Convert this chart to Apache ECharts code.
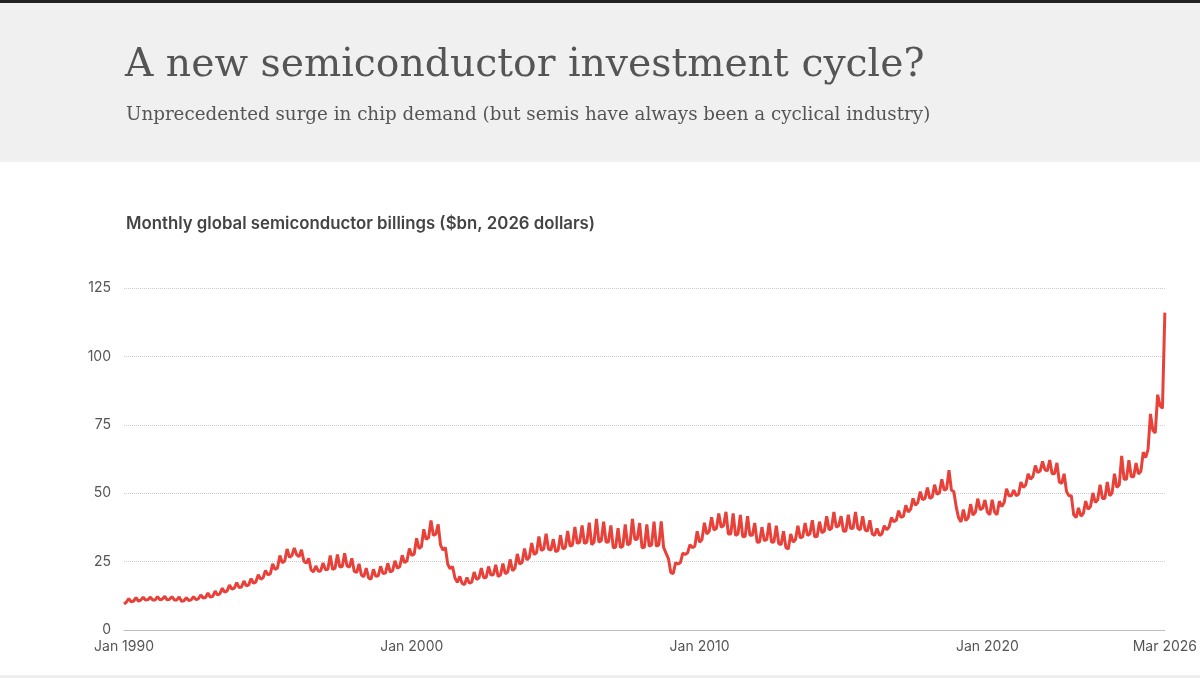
<!DOCTYPE html>
<html>
<head>
<meta charset="utf-8">
<title>A new semiconductor investment cycle?</title>
<script src="https://cdn.jsdelivr.net/npm/echarts@6.0.0/dist/echarts.min.js"></script>
<style>
  html, body { margin: 0; padding: 0; background: #fff; }
  #chart { width: 1200px; height: 678px; }
</style>
</head>
<body>
<div id="chart"></div>
<script>
// month names + first year -> category labels
var months = ['Jan', 'Feb', 'Mar', 'Apr', 'May', 'Jun', 'Jul', 'Aug', 'Sep', 'Oct', 'Nov', 'Dec'];
var firstYear = 1990;
// only these dates get a label on the x axis
var shownLabels = ['Jan 1990', 'Jan 2000', 'Jan 2010', 'Jan 2020', 'Mar 2026'];

// monthly billings, $bn (2026 dollars), one array per year
var y1990 = [9.5, 10.2, 11.5, 10.3, 10.6, 11.8, 10.6, 10.9, 12.0, 11.0, 11.1, 12.0];
var y1991 = [11.0, 11.0, 12.2, 11.0, 11.3, 12.3, 11.0, 11.2, 12.2, 11.0, 11.0, 12.1];
var y1992 = [10.5, 10.7, 11.8, 10.8, 11.0, 12.2, 11.1, 11.4, 12.8, 11.7, 11.9, 13.5];
var y1993 = [12.0, 12.3, 14.2, 12.8, 13.3, 15.3, 13.8, 14.3, 16.4, 14.9, 15.3, 17.3];
var y1994 = [15.5, 15.7, 17.9, 16.1, 16.5, 18.8, 17.1, 17.6, 20.2, 18.6, 19.1, 21.8];
var y1995 = [20.2, 20.5, 24.2, 22.1, 22.7, 27.2, 24.6, 25.2, 29.6, 26.6, 27.2, 30.0];
var y1996 = [27.5, 26.8, 29.3, 25.2, 24.4, 26.2, 22.0, 21.2, 23.4, 21.5, 21.6, 24.5];
var y1997 = [22.0, 22.2, 27.2, 22.1, 22.6, 27.6, 23.0, 23.2, 28.0, 23.4, 23.0, 26.2];
var y1998 = [21.5, 21.0, 24.2, 20.1, 19.5, 22.6, 19.0, 18.6, 22.2, 19.6, 19.8, 23.3];
var y1999 = [20.6, 20.8, 24.4, 21.2, 21.7, 25.3, 22.6, 23.2, 27.3, 24.6, 25.3, 29.8];
var y2000 = [27.2, 27.8, 33.5, 29.8, 30.4, 36.8, 33.1, 33.8, 40.0, 34.6, 35.0, 38.6];
var y2001 = [31.0, 29.2, 30.2, 24.0, 22.4, 23.2, 19.0, 17.4, 19.6, 17.0, 16.6, 19.2];
var y2002 = [17.1, 17.5, 21.2, 18.5, 19.0, 22.6, 19.1, 19.2, 23.2, 20.1, 20.2, 23.8];
var y2003 = [19.6, 20.1, 24.3, 20.6, 21.2, 25.8, 21.7, 22.6, 27.8, 24.1, 24.7, 29.8];
var y2004 = [25.6, 26.6, 31.8, 27.6, 28.2, 34.2, 29.1, 29.6, 35.2, 29.6, 29.2, 33.2];
var y2005 = [28.6, 29.1, 34.6, 29.6, 30.1, 36.2, 30.6, 31.1, 37.7, 31.6, 32.1, 38.2];
var y2006 = [31.6, 32.1, 39.2, 31.2, 32.1, 40.6, 32.1, 32.6, 39.6, 32.1, 32.2, 38.2];
var y2007 = [30.1, 30.2, 37.2, 30.1, 30.6, 38.6, 31.1, 31.6, 40.6, 33.1, 33.2, 39.1];
var y2008 = [30.1, 30.2, 38.6, 30.6, 31.1, 39.6, 30.6, 31.1, 39.7, 30.2, 28.1, 26.1];
var y2009 = [21.0, 20.6, 24.6, 24.1, 24.6, 28.1, 27.6, 28.2, 31.2, 30.1, 30.6, 36.1];
var y2010 = [32.1, 33.1, 39.2, 35.1, 36.1, 41.2, 36.6, 37.1, 42.6, 37.6, 38.1, 43.2];
var y2011 = [35.1, 35.1, 42.6, 34.6, 35.1, 42.1, 34.1, 34.2, 41.6, 34.6, 34.6, 39.1];
var y2012 = [32.1, 32.2, 37.6, 32.6, 33.1, 39.1, 32.1, 32.2, 38.1, 31.6, 31.2, 36.1];
var y2013 = [30.1, 29.6, 35.1, 32.1, 33.1, 38.1, 33.6, 34.1, 39.1, 34.6, 35.1, 40.1];
var y2014 = [34.1, 34.2, 39.6, 35.6, 36.1, 41.6, 36.6, 37.1, 43.1, 37.6, 38.1, 41.6];
var y2015 = [36.1, 36.2, 42.1, 37.1, 37.2, 43.1, 37.1, 36.6, 41.6, 36.6, 36.1, 40.1];
var y2016 = [35.1, 34.6, 37.1, 34.6, 35.1, 38.1, 36.6, 37.6, 41.1, 39.6, 40.1, 43.6];
var y2017 = [41.1, 41.6, 45.6, 43.1, 44.1, 48.1, 45.6, 46.6, 50.6, 47.6, 48.1, 52.1];
var y2018 = [48.1, 48.6, 53.1, 49.6, 50.1, 55.1, 51.1, 51.6, 58.4, 51.1, 50.6, 45.0];
var y2019 = [41.0, 39.5, 44.0, 40.0, 41.0, 46.0, 42.0, 43.0, 48.0, 44.0, 44.5, 47.5];
var y2020 = [43.1, 42.1, 47.6, 43.1, 42.1, 47.1, 45.1, 46.6, 51.6, 49.1, 49.1, 51.1];
var y2021 = [49.1, 49.6, 54.1, 52.1, 53.1, 57.1, 55.1, 56.1, 60.1, 57.6, 58.1, 61.6];
var y2022 = [58.6, 58.1, 62.1, 57.1, 57.1, 61.1, 54.1, 53.6, 57.1, 50.6, 49.1, 49.1];
var y2023 = [42.1, 41.1, 44.6, 41.6, 42.6, 47.1, 44.1, 45.1, 50.1, 46.6, 47.6, 53.1];
var y2024 = [48.1, 48.1, 54.1, 49.1, 50.1, 57.1, 52.1, 53.1, 63.6, 55.1, 55.1, 62.1];
var y2025 = [56.0, 56.0, 61.0, 57.0, 58.0, 65.0, 63.0, 66.0, 79.0, 73.0, 72.0, 86.0];
var y2026 = [82.0, 81.0, 116.0];

var billings = [].concat(
    y1990, y1991, y1992, y1993, y1994, y1995, y1996, y1997, y1998, y1999,
    y2000, y2001, y2002, y2003, y2004, y2005, y2006, y2007, y2008, y2009,
    y2010, y2011, y2012, y2013, y2014, y2015, y2016, y2017, y2018, y2019,
    y2020, y2021, y2022, y2023, y2024, y2025, y2026
);

var categories = [];
for (var i = 0; i < billings.length; i++) {
    categories.push(months[i % 12] + ' ' + (firstYear + Math.floor(i / 12)));
}

var red = '#e8413a';
var myChart = echarts.init(document.getElementById('chart'));
var option = {
    animation: false,
    backgroundColor: '#fff',
    // header band + titles
    graphic: [
        { type: 'rect', shape: { x: 0, y: 0, width: 1200, height: 3 }, style: { fill: '#222' } },
        { type: 'rect', shape: { x: 0, y: 3, width: 1200, height: 159 }, style: { fill: '#f0f0f0' } },
        { type: 'rect', shape: { x: 0, y: 675, width: 1200, height: 3 }, style: { fill: '#eeeeee' } },
        {
            type: 'text', x: 125, y: 66,
            style: {
                text: 'A new semiconductor investment cycle?',
                fontFamily: 'DejaVu Serif', fontSize: 39.3, fill: '#555',
                verticalAlign: 'middle'
            }
        },
        {
            type: 'text', x: 126, y: 115,
            style: {
                text: 'Unprecedented surge in chip demand (but semis have always been a cyclical industry)',
                fontFamily: 'DejaVu Serif', fontSize: 18.3, fill: '#555',
                verticalAlign: 'middle'
            }
        },
        {
            type: 'text', x: 126, y: 224,
            style: {
                text: 'Monthly global semiconductor billings ($bn, 2026 dollars)',
                fontFamily: 'Inter', fontSize: 16.8, fontWeight: 600, fill: '#444',
                verticalAlign: 'middle'
            }
        }
    ],
    grid: { left: 124, right: 33, top: 288, bottom: 48 },
    xAxis: {
        type: 'category',
        data: categories,
        boundaryGap: false,
        axisTick: { show: false },
        axisLine: { lineStyle: { color: '#bdbdbd', width: 1 } },
        axisLabel: {
            interval: function (index, value) {
                return shownLabels.indexOf(value) >= 0;
            },
            color: '#555', fontFamily: 'Inter', fontSize: 14, margin: 10
        }
    },
    yAxis: {
        type: 'value',
        min: 0, max: 125, interval: 25,
        axisLabel: { color: '#555', fontFamily: 'Inter', fontSize: 14, margin: 13 },
        splitLine: { lineStyle: { type: 'dotted', color: '#cccccc', width: 1 } }
    },
    series: [{
        name: 'Billings',
        type: 'line',
        data: billings,
        showSymbol: false,
        lineStyle: { color: red, width: 3 },
        itemStyle: { color: red }
    }]
};
myChart.setOption(option);
window.addEventListener('resize', function () {
    myChart.resize();
});
</script>
</body>
</html>
